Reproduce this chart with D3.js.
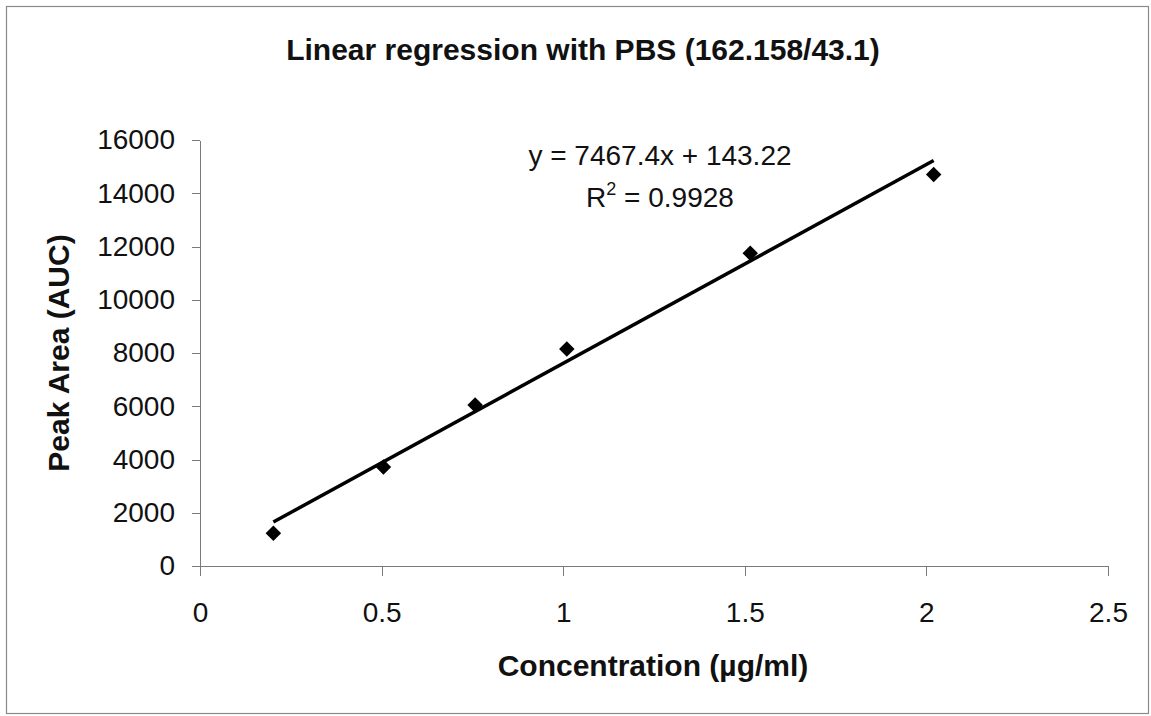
<!DOCTYPE html>
<html lang="en">
  <head>
    <meta charset="UTF-8" />
    <title>Linear regression with PBS</title>
    <script src="https://d3js.org/d3.v7.min.js"></script>
    <style>
      html,
      body {
        margin: 0;
        padding: 0;
        background-color: #fff;
        font-family: Arial, "Liberation Sans", sans-serif;
      }
      .axis path,
      .axis line {
        stroke: #7a7a7a;
        stroke-width: 1px;
        shape-rendering: crispEdges;
      }
      .axis text {
        font-size: 28px;
        fill: #111;
        font-family: Arial, "Liberation Sans", sans-serif;
      }
    </style>
  </head>
  <body>
    <svg id="chart"></svg>
    <script>
      // data
      const concentration = [0.202, 0.505, 0.7575, 1.01, 1.515, 2.02];
      const peakArea = [1230, 3720, 6050, 8150, 11750, 14700];
      const xTicks = [0, 0.5, 1, 1.5, 2, 2.5];
      const yTicks = [0, 2000, 4000, 6000, 8000, 10000, 12000, 14000, 16000];
      const slope = 7467.4;
      const intercept = 143.22;

      const W = 1151, H = 716;
      const plot = { left: 200, right: 1108, top: 140, bottom: 566 };

      const svg = d3.select("#chart").attr("width", W).attr("height", H);

      // outer frame
      svg
        .append("rect")
        .attr("x", 6.5)
        .attr("y", 6.5)
        .attr("width", 1142)
        .attr("height", 707)
        .attr("fill", "none")
        .attr("stroke", "#8a8a8a")
        .attr("stroke-width", 1.2);

      const x = d3.scaleLinear().domain([0, 2.5]).range([plot.left, plot.right]);
      const y = d3.scaleLinear().domain([0, 16000]).range([plot.bottom, plot.top]);

      // axes
      svg
        .append("g")
        .attr("class", "axis")
        .attr("transform", `translate(${plot.left},0)`)
        .call(
          d3.axisLeft(y).tickValues(yTicks).tickSize(8).tickSizeOuter(0).tickPadding(17).tickFormat(d3.format("d"))
        );

      svg
        .append("g")
        .attr("class", "axis")
        .attr("transform", `translate(0,${plot.bottom})`)
        .call(
          d3.axisBottom(x).tickValues(xTicks).tickSize(10).tickSizeOuter(0).tickPadding(26).tickFormat((d) => String(d))
        );

      // trend line from min x to max x
      const xExtent = d3.extent(concentration);
      svg
        .append("path")
        .datum(xExtent)
        .attr("fill", "none")
        .attr("stroke", "#000")
        .attr("stroke-width", 3.5)
        .attr(
          "d",
          d3
            .line()
            .x((d) => x(d))
            .y((d) => y(slope * d + intercept))
        );

      // diamond markers
      const diamond = d3.symbol().type(d3.symbolSquare).size(120);
      svg
        .selectAll(".pt")
        .data(concentration)
        .enter()
        .append("path")
        .attr("class", "pt")
        .attr("d", diamond)
        .attr("fill", "#000")
        .attr("transform", (d, i) => `translate(${x(d)},${y(peakArea[i])}) rotate(45)`);

      // title
      svg
        .append("text")
        .attr("x", 583)
        .attr("y", 60)
        .attr("text-anchor", "middle")
        .style("font-size", "30px")
        .style("font-weight", "bold")
        .attr("fill", "#111")
        .text("Linear regression with PBS (162.158/43.1)");

      // equation
      svg
        .append("text")
        .attr("x", 660)
        .attr("y", 165)
        .attr("text-anchor", "middle")
        .style("font-size", "28px")
        .attr("fill", "#111")
        .text(`y = ${slope}x + ${intercept}`);

      const r2 = svg
        .append("text")
        .attr("x", 660)
        .attr("y", 207)
        .attr("text-anchor", "middle")
        .style("font-size", "28px")
        .attr("fill", "#111");
      r2.append("tspan").text("R");
      r2.append("tspan").attr("dy", -12).style("font-size", "18px").text("2");
      r2.append("tspan").attr("dy", 12).text(" = 0.9928");

      // axis titles
      svg
        .append("text")
        .attr("x", 653)
        .attr("y", 676)
        .attr("text-anchor", "middle")
        .style("font-size", "30px")
        .style("font-weight", "bold")
        .attr("fill", "#111")
        .text("Concentration (µg/ml)");

      svg
        .append("text")
        .attr("transform", "translate(69,353) rotate(-90)")
        .attr("text-anchor", "middle")
        .style("font-size", "30px")
        .style("font-weight", "bold")
        .attr("fill", "#111")
        .text("Peak Area (AUC)");
    </script>
  </body>
</html>
